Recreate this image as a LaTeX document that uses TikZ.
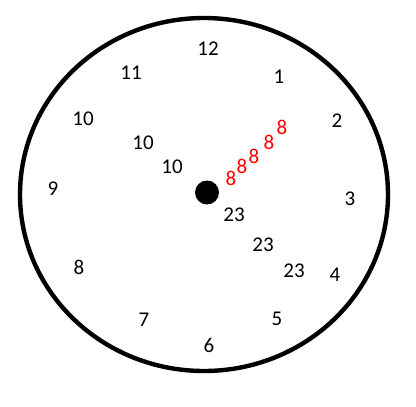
\documentclass[tikz,border=0pt]{standalone}
\usepackage{fontspec}
\setmainfont{Carlito}
\usepackage{xcolor}
\usetikzlibrary{shapes,positioning}

\begin{document}
\begin{tikzpicture}[x=1pt, y=-1pt, every node/.style={font=\fontsize{21}{25}\selectfont, inner sep=0pt},
	ora/.style={text=black},
	rosso/.style={text=red}]
	\useasboundingbox (0,0) rectangle (416,407);
	% quadrante
	\node[ellipse, draw, line width=4.4pt, minimum width=368pt, minimum height=353pt] (quadrante) at (204,194.5) {};
	\node[circle, fill=black, minimum size=24pt] (perno) at (207,192.5) {};
	
	% numeri delle ore
	\node[ora] (h12) at (208,49) {12};
	\node[ora] (h1) at (279,77) {1};
	\node[ora] (h2) at (337,121) {2};
	\node[ora] (h3) at (350,199) {3};
	\node[ora] (h4) at (335,275) {4};
	\node[ora] (h5) at (277,319) {5};
	\node[ora] (h6) at (209,345) {6};
	\node[ora] (h7) at (144,320) {7};
	\node[ora] (h8) at (79,267) {8};
	\node[ora] (h9) at (53,189) {9};
	\node[ora] (h10) at (83,119) {10};
	\node[ora] (h11) at (131,73) {11};
	
	% lancetta delle ore
	\node[ora] (lancA) at (143,143) {10};
	\node[ora] (lancB) at (172,167) {10};
	
	% lancetta dei minuti
	\node[rosso] (minA) at (231,178) {8};
	\node[rosso] (minB) at (242,166) {8};
	\node[rosso] (minC) at (254,156) {8};
	\node[rosso] (minD) at (269,142) {8};
	\node[rosso] (minE) at (282,127) {8};
	
	% lancetta dei secondi
	\node[ora] (secA) at (234,215) {23};
	\node[ora] (secB) at (263,245) {23};
	\node[ora] (secC) at (294,271) {23};
\end{tikzpicture}
\end{document}
